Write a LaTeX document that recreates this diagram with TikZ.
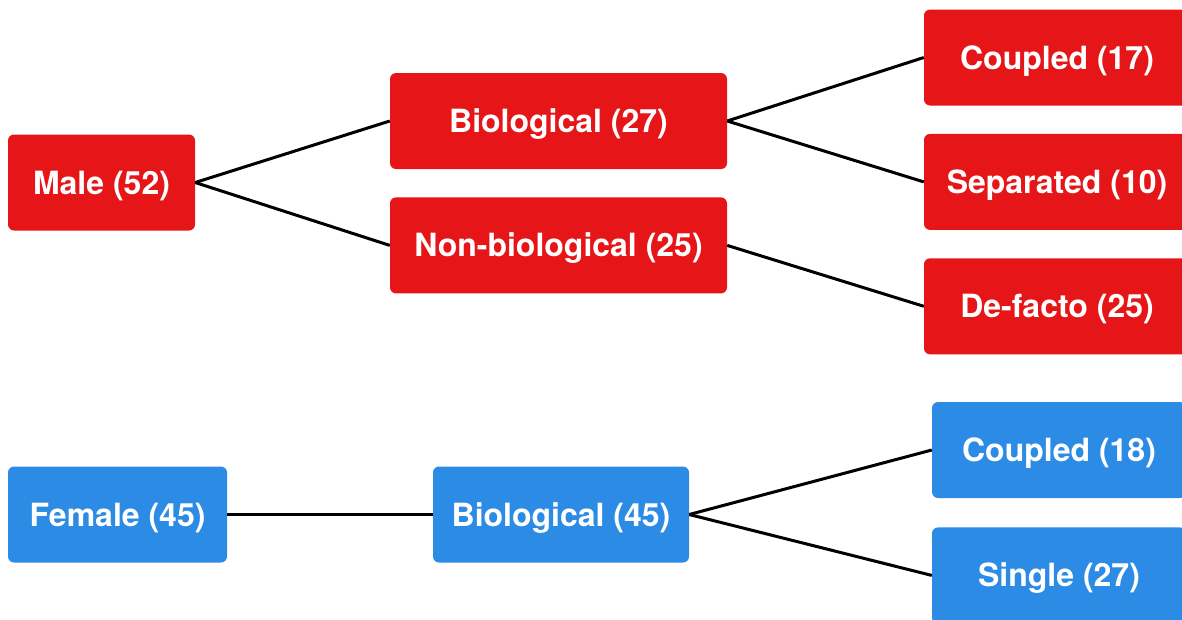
\documentclass[tikz,border=0pt]{standalone}
\usepackage{fontspec}
\setmainfont{TeX Gyre Heros}
\usetikzlibrary{positioning}
\definecolor{malered}{RGB}{230,22,24}
\definecolor{femaleblue}{RGB}{44,139,228}

\begin{document}
\begin{tikzpicture}[x=1pt, y=-1pt,
        every node/.style={rounded corners=6pt, text=white, inner sep=0pt, minimum height=96pt,
            text height=23pt, text depth=0pt, font=\fontsize{32}{32}\selectfont\bfseries},
        male box/.style={fill=malered},
        female box/.style={fill=femaleblue},
        link/.style={draw=black, line width=3pt}]
        \useasboundingbox (0,0) rectangle (1182,619);

        % male branch
        \node[male box, minimum width=187pt] (male) at (101.5,182.5) {Male (52)};
        \node[male box, minimum width=337pt] (bio male) at (558.5,121) {Biological (27)};
        \node[male box, minimum width=337pt, below=28pt of bio male] (nonbio male) {Non-biological (25)};

        \node[male box, minimum width=266pt] (coupled male) at (1057,57.5) {Coupled (17)};
        \node[male box, minimum width=266pt, below=28pt of coupled male] (separated male) {Separated (10)};
        \node[male box, minimum width=266pt, below=28pt of separated male] (defacto male) {De-facto (25)};

        % female branch
        \node[female box, minimum width=219pt] (female) at (117.5,514.5) {Female (45)};
        \node[female box, minimum width=256pt] (bio female) at (561,514.5) {Biological (45)};

        \node[female box, minimum width=254pt] (coupled female) at (1059,450) {Coupled (18)};
        \node[female box, minimum width=254pt, below=29pt of coupled female] (single female) {Single (27)};

        \foreach \from/\to in {male/bio male, male/nonbio male,
                bio male/coupled male, bio male/separated male, nonbio male/defacto male,
                female/bio female, bio female/coupled female, bio female/single female}
            \draw[link] (\from.east) -- (\to.west);
    \end{tikzpicture}
\end{document}
